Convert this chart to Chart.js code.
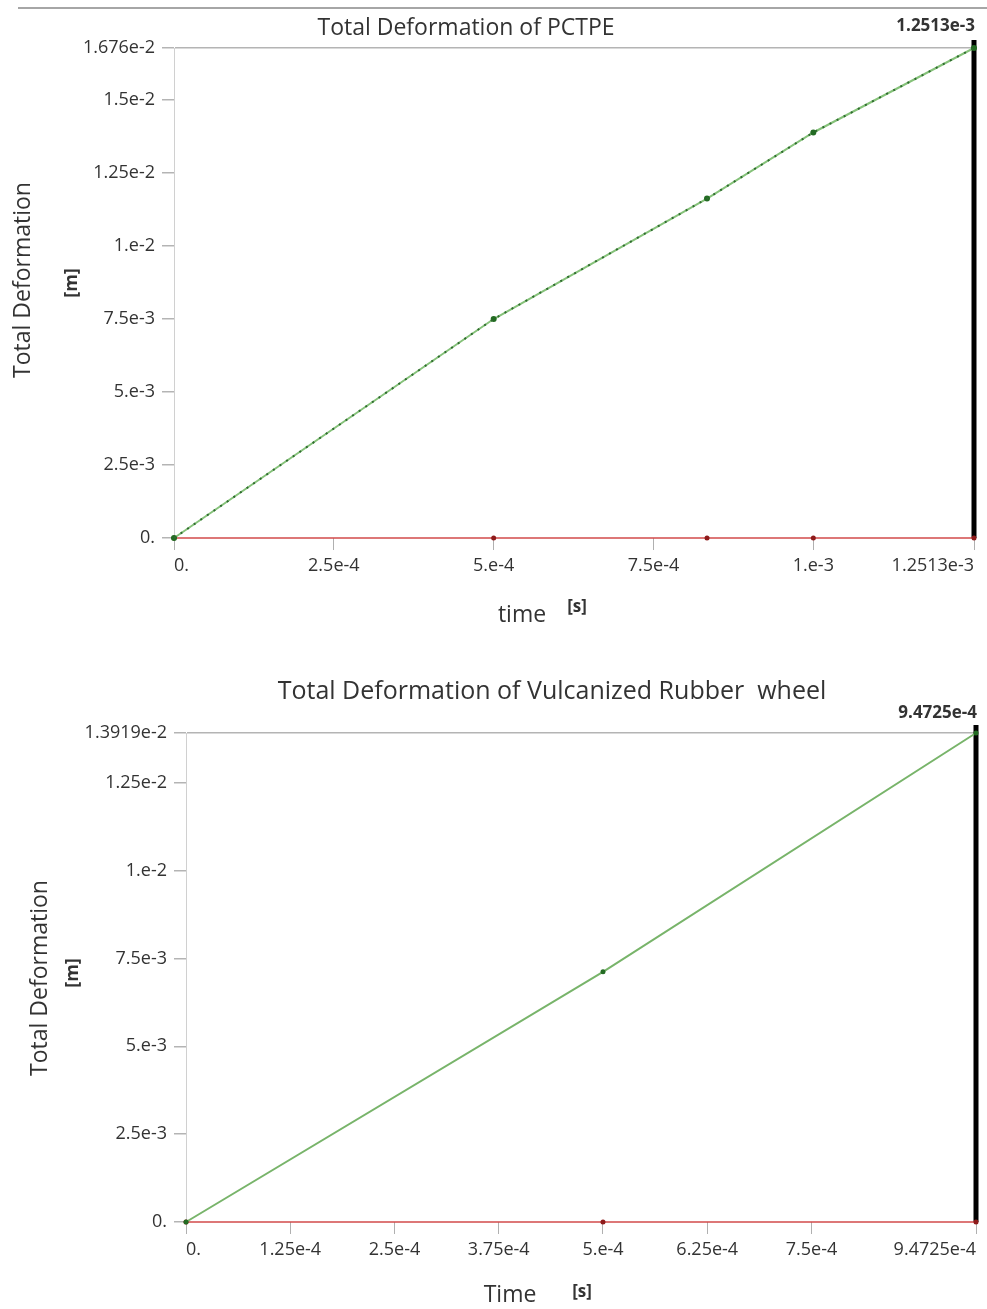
<!DOCTYPE html>
<html>
<head>
<meta charset="utf-8">
<script src="https://cdn.jsdelivr.net/npm/chart.js@4.4.1/dist/chart.umd.min.js"></script>
<style>
body{margin:0;background:#fff;width:987px;height:1309px;position:relative;overflow:hidden}
canvas{position:absolute;left:0}
#top{top:0}
#bottom{top:640px}
.strip{position:absolute;top:7px;left:18px;right:0;border-top:2px solid #a6a6a6}
</style>
</head>
<body>
<div class="strip"></div>
<canvas id="top" width="987" height="640"></canvas>
<canvas id="bottom" width="987" height="669"></canvas>
<script>
// PCTPE
const timeTop=[0, 5e-4, 8.337e-4, 1e-3, 1.2513e-3];
const deformTop=[0, 7.49e-3, 1.161e-2, 1.387e-2, 1.676e-2];
const xTicksTop=[0, 2.5e-4, 5e-4, 7.5e-4, 1e-3, 1.2513e-3];
const xLabelsTop=['0.', '2.5e-4', '5.e-4', '7.5e-4', '1.e-3', '1.2513e-3'];
const yTicksTop=[0, 2.5e-3, 5e-3, 7.5e-3, 1e-2, 1.25e-2, 1.5e-2, 1.676e-2];
const yLabelsTop=['0.', '2.5e-3', '5.e-3', '7.5e-3', '1.e-2', '1.25e-2', '1.5e-2', '1.676e-2'];

// Vulcanized rubber wheel
const timeBot=[0, 5e-4, 9.4725e-4];
const deformBot=[0, 7.12e-3, 1.3919e-2];
const xTicksBot=[0, 1.25e-4, 2.5e-4, 3.75e-4, 5e-4, 6.25e-4, 7.5e-4, 9.4725e-4];
const xLabelsBot=['0.', '1.25e-4', '2.5e-4', '3.75e-4', '5.e-4', '6.25e-4', '7.5e-4', '9.4725e-4'];
const yTicksBot=[0, 2.5e-3, 5e-3, 7.5e-3, 1e-2, 1.25e-2, 1.3919e-2];
const yLabelsBot=['0.', '2.5e-3', '5.e-3', '7.5e-3', '1.e-2', '1.25e-2', '1.3919e-2'];

Chart.defaults.font.family="'Open Sans', sans-serif";
Chart.defaults.color='#333';

function txt(c,s,x,y,font,align,rot){
    c.save();
    c.translate(x,y);
    if(rot) c.rotate(rot);
    c.font=font;
    c.fillStyle='#333';
    c.textAlign=align||'center';
    c.textBaseline='middle';
    c.fillText(s,0,0);
    c.restore();
}

const ansysText={
    id:'ansysText',
    beforeDatasetsDraw(chart,args,o){
        const c=chart.ctx, xs=chart.scales.x, ys=chart.scales.y;
        const bx=xs.getPixelForValue(o.cursor);
        c.save();
        c.fillStyle='#000';
        c.fillRect(bx-2.5, ys.top-8, 5, ys.bottom-ys.top+8);
        c.restore();
    },
    afterDraw(chart,args,o){
        const c=chart.ctx, xs=chart.scales.x;
        const bx=xs.getPixelForValue(o.cursor);
        txt(c,o.title,o.titleX,o.titleY,o.titleSize+"px 'Open Sans'");
        txt(c,o.yTitle,o.yTitleX,o.yTitleY,"23px 'Open Sans'",'center',-Math.PI/2);
        txt(c,'[m]',o.yUnitX,o.yUnitY,"bold 18px 'Open Sans'",'center',-Math.PI/2);
        txt(c,o.xTitle,o.xTitleX,o.xTitleY,"23px 'Open Sans'");
        txt(c,'[s]',o.xUnitX,o.xUnitY,"bold 17px 'Open Sans'");
        txt(c,o.cursorLabel,bx+1,o.cursorY,"bold 17px 'Open Sans'",'right');
    }
};

function pts(t,v){ return t.map((x,i)=>({x:x,y:v[i]})); }

function makeChart(id,cfg){
    return new Chart(document.getElementById(id),{
        type:'line',
        data:{datasets:cfg.datasets},
        options:{
            responsive:false,
            animation:false,
            events:[],
            layout:{padding:cfg.padding},
            plugins:{legend:{display:false},tooltip:{enabled:false},ansysText:cfg.text},
            scales:{
                x:{
                    type:'linear',min:0,max:cfg.xMax,
                    afterBuildTicks:s=>{s.ticks=cfg.xTicks.map(v=>({value:v}));},
                    afterFit:s=>{s.height=cfg.xh;s.paddingLeft=0;s.paddingRight=0;},
                    ticks:{callback:(v,i)=>cfg.xLabels[i],autoSkip:false,maxRotation:0,align:'inner',padding:5,font:{size:18},color:'#333'},
                    grid:{drawOnChartArea:false,tickLength:12,tickColor:'#b0b0b0'},
                    border:{display:false}
                },
                y:{
                    type:'linear',min:0,max:cfg.yMax,
                    afterBuildTicks:s=>{s.ticks=cfg.yTicks.map(v=>({value:v}));},
                    afterFit:s=>{s.width=cfg.yw;s.paddingTop=0;s.paddingBottom=0;},
                    ticks:{callback:(v,i)=>cfg.yLabels[i],autoSkip:false,padding:7,font:{size:18},color:'#333'},
                    grid:{color:c=>c.index===cfg.yTicks.length-1?'#b4b4b4':'rgba(0,0,0,0)',tickLength:12,tickColor:'#b4b4b4',lineWidth:1.5},
                    border:{color:'#d0d0d0'}
                }
            }
        },
        plugins:[ansysText]
    });
}

makeChart('top',{
    padding:{top:48,right:13,left:0,bottom:0},
    xh:102, yw:174,
    xMax:timeTop[timeTop.length-1], yMax:yTicksTop[yTicksTop.length-1],
    xTicks:xTicksTop, xLabels:xLabelsTop, yTicks:yTicksTop, yLabels:yLabelsTop,
    datasets:[
        {data:pts(timeTop,deformTop),borderColor:'#2f6b2f',borderWidth:2,borderDash:[2,6],pointRadius:0,clip:false},
        {data:pts(timeTop,deformTop),borderColor:'#86c27a',borderWidth:2,pointRadius:3,pointBackgroundColor:'#236b23',pointBorderWidth:0,clip:false},
        {data:pts(timeTop,timeTop.map(()=>0)),borderColor:'#d24a4a',borderWidth:1.5,pointRadius:2.5,pointBackgroundColor:'#8e1b1b',pointBorderWidth:0,clip:false}
    ],
    text:{
        title:'Total Deformation of PCTPE',titleX:466,titleY:28,titleSize:23,
        yTitle:'Total Deformation',yTitleX:23,yTitleY:280,yUnitX:72,yUnitY:283,
        xTitle:'time',xTitleX:522,xTitleY:615,xUnitX:577,xUnitY:607,
        cursor:timeTop[timeTop.length-1],cursorLabel:'1.2513e-3',cursorY:26
    }
});

makeChart('bottom',{
    padding:{top:93,right:11,left:0,bottom:0},
    xh:87, yw:186,
    xMax:timeBot[timeBot.length-1], yMax:yTicksBot[yTicksBot.length-1],
    xTicks:xTicksBot, xLabels:xLabelsBot, yTicks:yTicksBot, yLabels:yLabelsBot,
    datasets:[
        {data:pts(timeBot,deformBot),borderColor:'#78b46a',borderWidth:2,pointRadius:2.5,pointBackgroundColor:'#236b23',pointBorderWidth:0,clip:false},
        {data:pts(timeBot,timeBot.map(()=>0)),borderColor:'#d24a4a',borderWidth:1.5,pointRadius:2.5,pointBackgroundColor:'#8e1b1b',pointBorderWidth:0,clip:false}
    ],
    text:{
        title:'Total Deformation of Vulcanized Rubber  wheel',titleX:552,titleY:52,titleSize:25,
        yTitle:'Total Deformation',yTitleX:40,yTitleY:338,yUnitX:73,yUnitY:333,
        xTitle:'Time',xTitleX:510,xTitleY:655,xUnitX:582,xUnitY:652,
        cursor:timeBot[timeBot.length-1],cursorLabel:'9.4725e-4',cursorY:73
    }
});
</script>
</body>
</html>
